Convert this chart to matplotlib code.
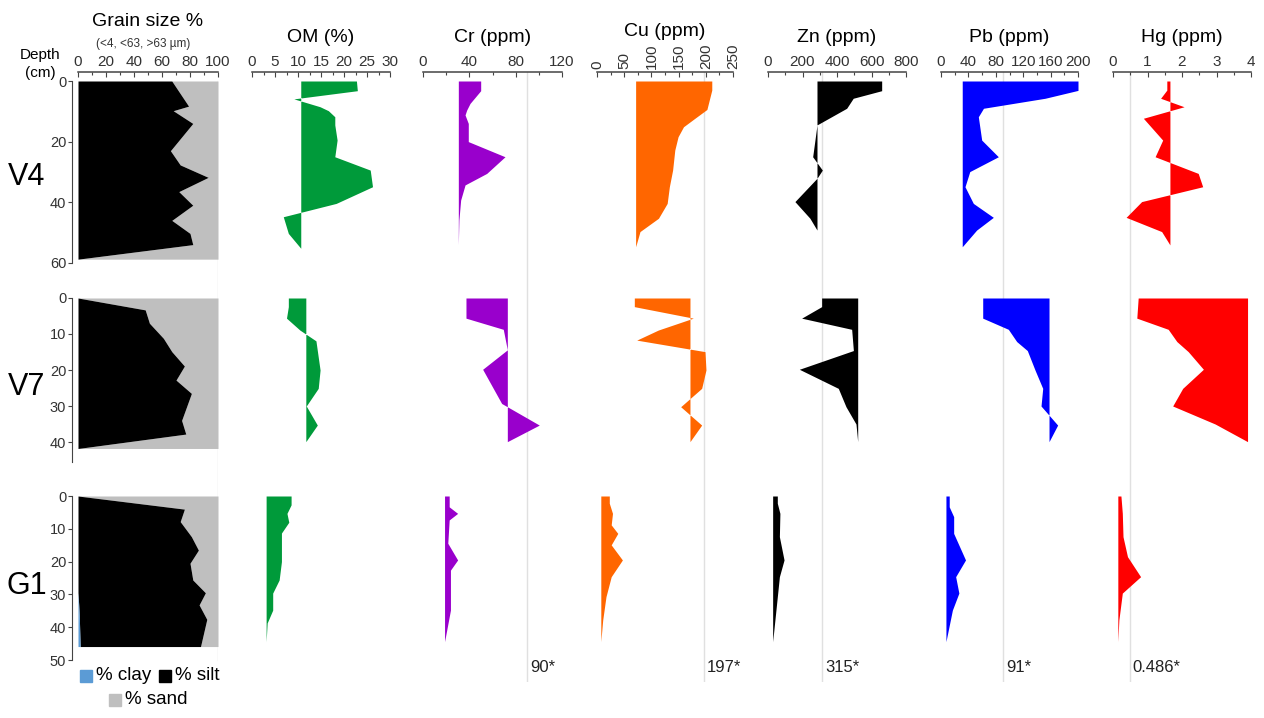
import matplotlib.pyplot as plt
from matplotlib.patches import Rectangle
from matplotlib.ticker import MultipleLocator, FixedLocator

plt.rcParams['font.family'] = ['Liberation Sans', 'DejaVu Sans']

W, H = 1264, 718

# ---- grain size (% of sample), depth in cm ----
V4_GRAIN_D = [0, 8.3, 9.8, 14, 23, 27.7, 31.8, 36.5, 41, 46, 50.3, 54, 58.8]
V4_SILT = [67, 79, 68, 82, 66, 73, 93, 72, 82, 67, 80, 82, 0]
V4_CLAY = [0] * 13

V7_GRAIN_D = [0, 3.3, 7, 11.2, 14.9, 18.9, 22.8, 26.5, 34, 37.8, 41.8]
V7_SILT = [0, 48, 51, 61, 67, 76, 70, 81, 74, 77, 0]
V7_CLAY = [0] * 11

G1_GRAIN_D = [0, 4, 7.8, 12.4, 16.5, 20.5, 25.6, 29.5, 33.2, 37.6, 45.9]
G1_SILT = [0, 76, 73, 81, 86, 80, 82, 91, 86, 91, 86]
G1_CLAY = [0, 0, 0, 0, 0, 0, 0, 0, 0.5, 1, 1.5]

# ---- V4 profiles ----
V4_OM_D = [0, 3.2, 5.9, 8.5, 9.8, 11.8, 14.5, 19.5, 25, 29.4, 34.9, 40.4, 44.8, 50.3, 55.2]
V4_OM = [22.7, 22.9, 9.1, 14.8, 16.6, 18.0, 18.0, 18.5, 18.0, 25.7, 26.2, 18.3, 6.8, 7.9, 10.6]
V4_CR_D = [0, 3.2, 7.4, 9.6, 11.2, 14, 20, 25, 30.5, 34.3, 39.3, 45.9, 54]
V4_CR = [49.8, 49.8, 40.6, 37.7, 36.3, 39.1, 39.1, 70.8, 55, 36.3, 32.5, 31, 30.5]
V4_CU_D = [0, 3, 9.4, 12.3, 15.1, 18.4, 22.8, 29.4, 34.9, 40.4, 45.3, 49.7, 54.7]
V4_CU = [211, 211, 202, 180, 159, 149, 143, 139, 133, 129, 113, 79, 71]
V4_ZN_D = [0, 3.2, 5.7, 9, 14.5, 25, 29.4, 32.1, 39.8, 45.3, 49.2, 54.1]
V4_ZN = [659, 659, 494, 456, 284, 259, 315, 284, 156, 243, 284, 284]
V4_PB_D = [0, 3.1, 5.7, 9, 11.8, 19.5, 25, 29.9, 34.9, 40.4, 45, 49.2, 54.7]
V4_PB = [200, 200, 152, 62, 54.5, 59.4, 83.7, 42, 35, 47.2, 76.4, 52, 31]
V4_HG_D = [0, 3, 5.7, 8.5, 12.3, 19.5, 25, 30.5, 34.9, 39.8, 45, 49.7, 54.1]
V4_HG = [1.56, 1.56, 1.38, 2.06, 0.88, 1.44, 1.22, 2.47, 2.60, 0.83, 0.38, 1.41, 1.65]

# ---- V7 profiles ----
V7_OM_D = [0, 2.4, 5.6, 8.9, 11.9, 20, 25.1, 30, 35.3, 39.9]
V7_OM = [7.9, 7.9, 7.5, 10.4, 13.9, 14.8, 14.4, 11.8, 14.2, 11.7]
V7_CR_D = [0, 5.6, 8.7, 14.4, 19.8, 29.3, 35.3, 39.9]
V7_CR = [37.1, 37.1, 69.3, 72.8, 51.5, 67.9, 100.4, 72.8]
V7_CU_D = [0, 2.4, 5.6, 8.9, 11.7, 14.9, 20, 25.1, 30.2, 35.3, 39.9]
V7_CU = [68.6, 68.6, 177, 112.7, 73, 198.5, 200.3, 192.4, 153.8, 192.4, 170.9]
V7_ZN_D = [0, 2.4, 5.6, 8.7, 14.6, 19.8, 25.1, 30.2, 35, 39.9]
V7_ZN = [311, 311, 195, 485, 495, 181.5, 407.5, 452, 510, 520]
V7_PB_D = [0, 5.6, 8.7, 12.1, 14.6, 20, 25.1, 30, 35.3, 39.9]
V7_PB = [60.9, 60.9, 98.3, 110.5, 126, 137.2, 148.5, 146, 170.3, 157.7]
V7_HG_D = [0, 5.6, 8.7, 12.1, 14.9, 19.8, 25.1, 30, 35, 39.9]
V7_HG = [0.73, 0.69, 1.60, 1.85, 2.18, 2.62, 2.02, 1.73, 2.96, 3.90]

# ---- G1 profiles ----
G1_OM_D = [0, 2.7, 5.3, 8, 11.3, 20, 25.6, 29.6, 34.8, 38.7, 44.4]
G1_OM = [8.5, 8.5, 7.6, 8.0, 6.4, 6.4, 5.9, 4.5, 4.5, 3.3, 3.07]
G1_CR_D = [0, 3.3, 5.3, 7.3, 14.4, 19.5, 22.6, 34.8, 44.4]
G1_CR = [22.6, 22.6, 29.9, 22.6, 21.4, 29.9, 23.7, 23.7, 18.6]
G1_CU_D = [0, 2.2, 5.3, 8.8, 11.4, 14.9, 19.5, 24.6, 30.7, 37.8, 44.4]
G1_CU = [22.6, 22.6, 28.5, 26.1, 38.2, 26.1, 46.7, 26.1, 16.5, 10.5, 7]
G1_ZN_D = [0, 2.2, 5.3, 12.4, 19.5, 24.6, 34.8, 44.4]
G1_ZN = [54, 54, 69, 66, 93, 66, 46, 27]
G1_PB_D = [0, 3.3, 6.3, 11.4, 19.5, 24.6, 29.6, 34.8, 44.4]
G1_PB = [12, 12, 18.5, 18.5, 35.8, 21.4, 26.1, 16.6, 7.2]
G1_HG_D = [0, 5.3, 12.4, 18.5, 24.6, 29.6, 37.8, 44.4]
G1_HG = [0.23, 0.27, 0.29, 0.42, 0.8, 0.27, 0.17, 0.14]

# background / guideline values
THRESH = {'Cr': 90, 'Cu': 197, 'Zn': 315, 'Pb': 91, 'Hg': 0.486}

grain = {
    'V4': (V4_GRAIN_D, V4_CLAY, V4_SILT),
    'V7': (V7_GRAIN_D, V7_CLAY, V7_SILT),
    'G1': (G1_GRAIN_D, G1_CLAY, G1_SILT),
}
profiles = {
    ('V4', 'OM'): (V4_OM_D, V4_OM), ('V4', 'Cr'): (V4_CR_D, V4_CR),
    ('V4', 'Cu'): (V4_CU_D, V4_CU), ('V4', 'Zn'): (V4_ZN_D, V4_ZN),
    ('V4', 'Pb'): (V4_PB_D, V4_PB), ('V4', 'Hg'): (V4_HG_D, V4_HG),
    ('V7', 'OM'): (V7_OM_D, V7_OM), ('V7', 'Cr'): (V7_CR_D, V7_CR),
    ('V7', 'Cu'): (V7_CU_D, V7_CU), ('V7', 'Zn'): (V7_ZN_D, V7_ZN),
    ('V7', 'Pb'): (V7_PB_D, V7_PB), ('V7', 'Hg'): (V7_HG_D, V7_HG),
    ('G1', 'OM'): (G1_OM_D, G1_OM), ('G1', 'Cr'): (G1_CR_D, G1_CR),
    ('G1', 'Cu'): (G1_CU_D, G1_CU), ('G1', 'Zn'): (G1_ZN_D, G1_ZN),
    ('G1', 'Pb'): (G1_PB_D, G1_PB), ('G1', 'Hg'): (G1_HG_D, G1_HG),
}

# column layout: key, title, left px, right px, axis max, major, minor, colour, title y px
cols = [
    ('grain', 'Grain size %', 78, 218, 100, 20, 10, None, 22),
    ('OM', 'OM (%)', 252, 390, 30, 5, 2.5, '#009a3a', 38),
    ('Cr', 'Cr (ppm)', 423, 562, 120, 40, 20, '#9900cc', 37),
    ('Cu', 'Cu (ppm)', 597, 733, 250, 50, 25, '#ff6600', 31),
    ('Zn', 'Zn (ppm)', 768, 906, 800, 200, 100, 'black', 37),
    ('Pb', 'Pb (ppm)', 941, 1078, 200, 40, 20, '#0000ff', 38),
    ('Hg', 'Hg (ppm)', 1113, 1251, 4, 1, 0.5, '#ff0000', 38),
]
# rows: name, px of depth 0, px per cm, top depth, bottom depth, ticks, label y px
rows = [
    ('V4', 81, 3.03, -3, 60, [0, 20, 40, 60], 177),
    ('V7', 298, 3.6, 0, 45.5, [0, 10, 20, 30, 40], 387),
    ('G1', 496, 3.28, 0, 50, [0, 10, 20, 30, 40, 50], 586),
]

fig = plt.figure(figsize=(W / 100, H / 100), dpi=100)


def px_axes(x0, x1, y0, y1):
    ax = fig.add_axes([x0 / W, 1 - y1 / H, (x1 - x0) / W, (y1 - y0) / H])
    ax.patch.set_visible(False)
    return ax


# faint vertical guide lines behind everything
for key, title, x0, x1, vmax, major, minor, color, ty in cols:
    bg = px_axes(x0, x1, 72, 682)
    bg.set_xlim(0, vmax)
    bg.set_ylim(0, 1)
    bg.axis('off')
    if key == 'grain':
        bg.axvline(100, ymin=(682 - 660) / 610, ymax=(682 - 81) / 610, color='#e3e3e3', lw=1)
    else:
        thr = THRESH.get(key)
        if thr is not None:
            bg.axvline(thr, color='#e0e0e0', lw=1)
            bg.annotate(f'{thr}*', xy=(thr, (682 - 667) / 610), xytext=(2, 0),
                        textcoords='offset points', ha='left', va='center',
                        fontsize=12, color='#222222')

for ri, (rname, y0, ppc, dtop, dbot, yticks, ly) in enumerate(rows):
    for key, title, x0, x1, vmax, major, minor, color, ty in cols:
        ax = px_axes(x0, x1, y0 + dtop * ppc, y0 + dbot * ppc)
        ax.set_xlim(0, vmax)
        ax.set_ylim(dbot, dtop)
        for s in ax.spines.values():
            s.set_visible(False)

        if key == 'grain':
            d, clay, silt = grain[rname]
            top = [c + s for c, s in zip(clay, silt)]
            ax.fill_betweenx(d, top, 100, color='#bfbfbf', lw=0)
            ax.fill_betweenx(d, clay, top, color='black', lw=0)
            ax.fill_betweenx(d, 0, clay, color='#5b9bd5', lw=0)
            ax.spines['left'].set_visible(True)
            ax.spines['left'].set_position(('outward', 4.5))
            ax.spines['left'].set_bounds(0, dbot)
            ax.spines['left'].set_color('#444444')
            ax.yaxis.set_major_locator(FixedLocator(yticks))
            ax.tick_params(axis='y', direction='out', length=3, width=0.8,
                           colors='#444444', labelsize=10.5, labelcolor='#333333', pad=1)
            fig.text(27 / W, 1 - ly / H, rname, fontsize=22, ha='center', va='center')
        else:
            d, v = profiles[(rname, key)]
            ax.fill_betweenx(d, v, v[-1], color=color, lw=0)
            ax.set_yticks([])

        if ri == 0:
            ax.spines['top'].set_visible(True)
            ax.spines['top'].set_bounds(0, vmax)
            ax.spines['top'].set_color('#444444')
            ax.spines['top'].set_linewidth(1.1)
            ax.xaxis.tick_top()
            ax.xaxis.set_major_locator(MultipleLocator(major))
            ax.xaxis.set_minor_locator(MultipleLocator(minor))
            ax.tick_params(axis='x', which='both', direction='in', top=True, bottom=False,
                           colors='#444444', width=0.8, labelsize=11, labelcolor='#333333', pad=2)
            ax.tick_params(axis='x', which='major', length=3.5)
            ax.tick_params(axis='x', which='minor', length=2.5)
            ax.xaxis.set_major_formatter(lambda x, pos: f'{x:g}')
            if key == 'Cu':
                for lab in ax.get_xticklabels():
                    lab.set_rotation(90)
            fig.text((x0 + x1) / 2 / W, 1 - ty / H, title, fontsize=14,
                     ha='center', va='center')
        else:
            ax.set_xticks([])

fig.text(143 / W, 1 - 44 / H, '(<4, <63, >63 µm)', fontsize=8.5, ha='center', va='center',
         color='#333333')
fig.text(40 / W, 1 - 55 / H, 'Depth', fontsize=11, ha='center', va='center')
fig.text(40 / W, 1 - 73 / H, '(cm)', fontsize=11, ha='center', va='center')

# grain size legend
for (sx, sy, c, lab) in [(80, 670, '#5b9bd5', '% clay'), (159, 670, 'black', '% silt'),
                         (109, 694, '#bfbfbf', '% sand')]:
    fig.add_artist(Rectangle((sx / W, 1 - (sy + 12) / H), 12 / W, 12 / H, color=c,
                             transform=fig.transFigure))
    fig.text((sx + 16) / W, 1 - (sy + 6) / H, lab, fontsize=13.5, ha='left', va='center')

fig.savefig('out.png', dpi=100)
